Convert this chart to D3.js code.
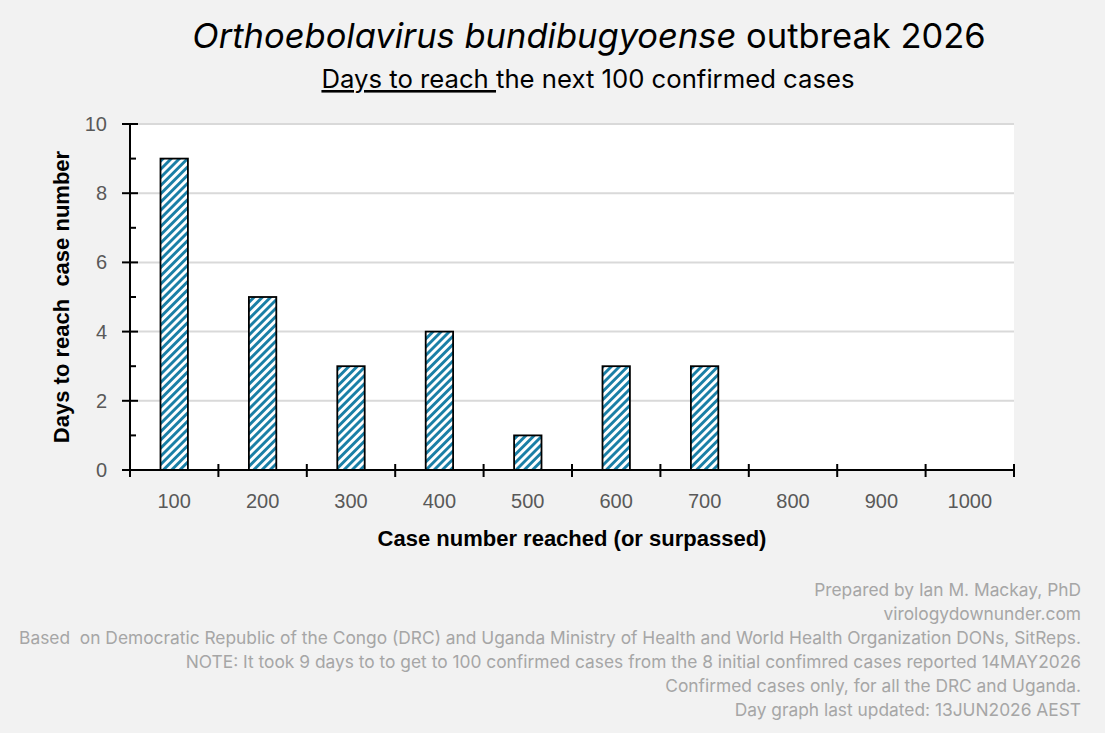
<!DOCTYPE html>
<html>
<head>
<meta charset="utf-8">
<script src="https://cdn.jsdelivr.net/npm/d3@7"></script>
<style>
  body { margin: 0; background: #f2f2f2; }
  svg { display: block; }
</style>
</head>
<body>
<div id="chart"></div>
<script>
var caseNumbers = ['100','200','300','400','500','600','700','800','900','1000'];
var daysToReach = [9, 5, 3, 4, 1, 3, 3, null, null, null];
var yTicks = [0, 2, 4, 6, 8, 10];
var footerLines = [
    'Prepared by Ian M. Mackay, PhD',
    'virologydownunder.com',
    'Based  on Democratic Republic of the Congo (DRC) and Uganda Ministry of Health and World Health Organization DONs, SitReps.',
    'NOTE: It took 9 days to to get to 100 confirmed cases from the 8 initial confimred cases reported 14MAY2026',
    'Confirmed cases only, for all the DRC and Uganda.',
    'Day graph last updated: 13JUN2026 AEST'
];

var width = 1105, height = 733;
var margin = {top: 124, left: 130, right: 91, bottom: 263};
var plotW = width - margin.left - margin.right,
    plotH = height - margin.top - margin.bottom;

var svg = d3.select('#chart').append('svg')
    .attr('width', width)
    .attr('height', height);

svg.append('rect').attr('width', width).attr('height', height).attr('fill', '#f2f2f2');

// hatch fill for the bars
var defs = svg.append('defs');
var pat = defs.append('pattern')
    .attr('id', 'hatch')
    .attr('patternUnits', 'userSpaceOnUse')
    .attr('width', 5.8).attr('height', 5.8)
    .attr('patternTransform', 'rotate(45)');
pat.append('rect').attr('width', 5.8).attr('height', 5.8).attr('fill', '#ffffff');
pat.append('rect').attr('width', 2.9).attr('height', 5.8).attr('fill', '#1a7fa6');

var g = svg.append('g').attr('transform', 'translate(' + margin.left + ',' + margin.top + ')');

g.append('rect').attr('width', plotW).attr('height', plotH).attr('fill', '#ffffff');

var x = d3.scaleBand().domain(caseNumbers).range([0, plotW]);
var y = d3.scaleLinear().domain([0, 10]).range([plotH, 0]);

// gridlines
g.selectAll('.grid').data(yTicks.slice(1))
    .enter().append('line')
    .attr('x1', 0).attr('x2', plotW)
    .attr('y1', d => y(d)).attr('y2', d => y(d))
    .attr('stroke', '#d9d9d9').attr('stroke-width', 2);

// bars
var barW = x.bandwidth() * 0.31;
g.selectAll('.bar').data(caseNumbers.map((c, i) => ({c: c, v: daysToReach[i]})).filter(d => d.v != null))
    .enter().append('rect')
    .attr('x', d => x(d.c) + (x.bandwidth() - barW) / 2)
    .attr('y', d => y(d.v))
    .attr('width', barW)
    .attr('height', d => plotH - y(d.v))
    .attr('fill', 'url(#hatch)')
    .attr('stroke', '#000').attr('stroke-width', 1.8);

// y axis
var yAxis = g.append('g');
yAxis.append('line').attr('x1', 0).attr('x2', 0).attr('y1', 0).attr('y2', plotH)
    .attr('stroke', '#000').attr('stroke-width', 2);
yAxis.selectAll('.major').data(yTicks).enter().append('line')
    .attr('x1', -8).attr('x2', 8)
    .attr('y1', d => y(d)).attr('y2', d => y(d))
    .attr('stroke', '#000').attr('stroke-width', 2);
yAxis.selectAll('.minor').data(d3.range(1, 10, 2)).enter().append('line')
    .attr('x1', 0).attr('x2', 6)
    .attr('y1', d => y(d)).attr('y2', d => y(d))
    .attr('stroke', '#000').attr('stroke-width', 2);
yAxis.selectAll('.lab').data(yTicks).enter().append('text')
    .attr('x', -23).attr('y', d => y(d) + 7)
    .attr('text-anchor', 'end')
    .attr('font-family', 'Liberation Sans, Arial, sans-serif')
    .attr('font-size', 20).attr('fill', '#595959')
    .text(d => d);

// x axis
var xAxis = g.append('g').attr('transform', 'translate(0,' + plotH + ')');
xAxis.append('line').attr('x1', -8).attr('x2', plotW).attr('stroke', '#000').attr('stroke-width', 2);
xAxis.selectAll('.tick').data(d3.range(0, caseNumbers.length + 1)).enter().append('line')
    .attr('x1', d => d * x.step()).attr('x2', d => d * x.step())
    .attr('y1', -6).attr('y2', 7)
    .attr('stroke', '#000').attr('stroke-width', 2);
xAxis.selectAll('.lab').data(caseNumbers).enter().append('text')
    .attr('x', d => x(d) + x.bandwidth() / 2).attr('y', 38)
    .attr('text-anchor', 'middle')
    .attr('font-family', 'Liberation Sans, Arial, sans-serif')
    .attr('font-size', 20).attr('fill', '#595959')
    .text(d => d);

// axis titles
svg.append('text')
    .attr('x', 572).attr('y', 546)
    .attr('text-anchor', 'middle')
    .attr('font-family', 'Liberation Sans, Arial, sans-serif')
    .attr('font-size', 22).attr('font-weight', 'bold').attr('fill', '#000')
    .text('Case number reached (or surpassed)');
svg.append('text')
    .attr('transform', 'translate(69,297) rotate(-90)')
    .attr('text-anchor', 'middle')
    .attr('font-family', 'Liberation Sans, Arial, sans-serif')
    .attr('font-size', 22).attr('font-weight', 'bold').attr('fill', '#000')
    .attr('xml:space', 'preserve')
    .text('Days to reach  case number');

// title
var title = svg.append('text')
    .attr('x', 589).attr('y', 48)
    .attr('text-anchor', 'middle')
    .attr('font-family', 'Inter, Noto Sans, sans-serif')
    .attr('font-size', 34.5).attr('fill', '#000');
title.append('tspan').attr('font-style', 'italic').text('Orthoebolavirus bundibugyoense');
title.append('tspan').text(' outbreak 2026');

var sub = svg.append('text')
    .attr('x', 588).attr('y', 88)
    .attr('text-anchor', 'middle')
    .attr('font-family', 'Inter, Noto Sans, sans-serif')
    .attr('font-size', 25.7).attr('fill', '#000')
    .attr('xml:space', 'preserve');
sub.append('tspan').attr('text-decoration', 'underline').text('Days to reach ');
sub.append('tspan').text('the next 100 confirmed cases');

// footer notes
svg.selectAll('.foot').data(footerLines).enter().append('text')
    .attr('x', 1081).attr('y', (d, i) => 596 + i * 24)
    .attr('text-anchor', 'end')
    .attr('font-family', 'Inter, Noto Sans, sans-serif')
    .attr('font-size', 17.35).attr('fill', '#a6a6a6')
    .attr('xml:space', 'preserve')
    .text(d => d);
</script>
</body>
</html>
